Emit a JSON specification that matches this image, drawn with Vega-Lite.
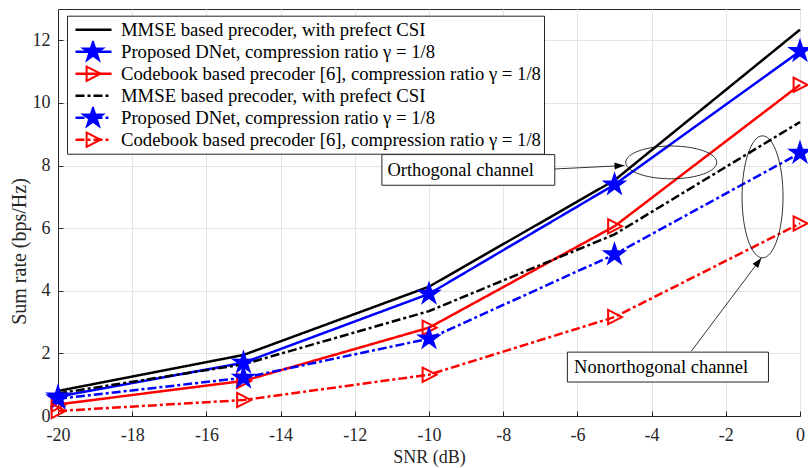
{
  "$schema": "https://vega.github.io/schema/vega-lite/v6.json",
  "width": 742,
  "height": 407,
  "autosize": {"type": "none"},
  "padding": {"left": 58, "top": 9, "right": 8, "bottom": 52},
  "background": "white",
  "config": {
    "font": "Liberation Serif",
    "view": {"stroke": "#262626", "strokeWidth": 1},
    "axis": {
      "labelFont": "Liberation Serif",
      "labelFontSize": 18,
      "labelColor": "#262626",
      "titleFont": "Liberation Serif",
      "titleFontWeight": "normal",
      "titleColor": "#262626",
      "grid": true,
      "gridColor": "#e4e4e4",
      "gridWidth": 1,
      "domainColor": "#262626",
      "tickColor": "#262626",
      "labelFlush": false,
      "labelOverlap": false
    }
  },
  "datasets": {
    "curves": [
      {"x": -20, "y": 0.80, "series": "s1", "mk": "m1"},
      {"x": -15, "y": 1.95, "series": "s1", "mk": "m1"},
      {"x": -10, "y": 4.13, "series": "s1", "mk": "m1"},
      {"x": -5, "y": 7.53, "series": "s1", "mk": "m1"},
      {"x": 0, "y": 12.34, "series": "s1", "mk": "m1"},
      {"x": -20, "y": 0.62, "series": "s2", "mk": "m2"},
      {"x": -15, "y": 1.70, "series": "s2", "mk": "m2"},
      {"x": -10, "y": 3.90, "series": "s2", "mk": "m2"},
      {"x": -5, "y": 7.39, "series": "s2", "mk": "m2"},
      {"x": 0, "y": 11.65, "series": "s2", "mk": "m2"},
      {"x": -20, "y": 0.37, "series": "s3", "mk": "m3"},
      {"x": -15, "y": 1.12, "series": "s3", "mk": "m3"},
      {"x": -10, "y": 2.82, "series": "s3", "mk": "m3"},
      {"x": -5, "y": 6.06, "series": "s3", "mk": "m3"},
      {"x": 0, "y": 10.58, "series": "s3", "mk": "m3"},
      {"x": -20, "y": 0.72, "series": "s4", "mk": "m4"},
      {"x": -15, "y": 1.65, "series": "s4", "mk": "m4"},
      {"x": -10, "y": 3.35, "series": "s4", "mk": "m4"},
      {"x": -5, "y": 5.80, "series": "s4", "mk": "m4"},
      {"x": 0, "y": 9.39, "series": "s4", "mk": "m4"},
      {"x": -20, "y": 0.55, "series": "s5", "mk": "m5"},
      {"x": -15, "y": 1.22, "series": "s5", "mk": "m5"},
      {"x": -10, "y": 2.47, "series": "s5", "mk": "m5"},
      {"x": -5, "y": 5.16, "series": "s5", "mk": "m5"},
      {"x": 0, "y": 8.40, "series": "s5", "mk": "m5"},
      {"x": -20, "y": 0.16, "series": "s6", "mk": "m6"},
      {"x": -15, "y": 0.51, "series": "s6", "mk": "m6"},
      {"x": -10, "y": 1.32, "series": "s6", "mk": "m6"},
      {"x": -5, "y": 3.16, "series": "s6", "mk": "m6"},
      {"x": 0, "y": 6.15, "series": "s6", "mk": "m6"}
    ],
    "boxes": [
      {"x": -11.27, "x2": -6.61, "y": 8.35, "y2": 7.37},
      {"x": -6.27, "x2": -0.85, "y": 2.04, "y2": 1.085}
    ],
    "notes": [
      {"x": -11.12, "y": 7.86, "text": "Orthogonal channel"},
      {"x": -6.09, "y": 1.56, "text": "Nonorthogonal channel"}
    ],
    "arrows": [
      {"x": -6.61, "y": 7.89, "x2": -4.73, "y2": 8.0},
      {"x": -2.93, "y": 2.07, "x2": -1.04, "y2": 5.05}
    ],
    "orthTip": [{"x": -4.73, "y": 8.0}],
    "nonTip": [{"x": -1.04, "y": 5.05}],
    "orthEll": [{"x": -3.47, "y": 8.10}],
    "nonEll": [{"x": -1.01, "y": 7.0}]
  },
  "encoding": {
    "x": {
      "field": "x",
      "type": "quantitative",
      "scale": {"domain": [-20, 0], "nice": false},
      "axis": {
        "title": "SNR (dB)",
        "titleFontSize": 18,
        "titleBaseline": "alphabetic",
        "titleY": 46.8,
        "values": [-20, -18, -16, -14, -12, -10, -8, -6, -4, -2, 0],
        "labelExpr": "'' + datum.value",
        "tickSize": -5,
        "labelBaseline": "middle",
        "labelPadding": 24
      }
    },
    "y": {
      "field": "y",
      "type": "quantitative",
      "scale": {"domain": [0, 13], "nice": false},
      "axis": {
        "title": "Sum rate (bps/Hz)",
        "titleFontSize": 20,
        "titleBaseline": "middle",
        "titleX": -39,
        "titleY": 242,
        "values": [0, 2, 4, 6, 8, 10, 12],
        "labelExpr": "'' + datum.value",
        "tickSize": -5,
        "labelPadding": 13
      }
    }
  },
  "layer": [
    {
      "data": {"name": "curves"},
      "mark": {"type": "line", "strokeWidth": 2.5},
      "encoding": {
        "color": {
          "field": "series",
          "type": "nominal",
          "scale": {
            "domain": ["s1", "s2", "s3", "s4", "s5", "s6"],
            "range": ["#000000", "#0000ff", "#ff0000", "#000000", "#0000ff", "#ff0000"]
          },
          "legend": {
            "orient": "none",
            "legendX": 9,
            "legendY": 6.7,
            "title": null,
            "padding": 3,
            "symbolOffset": 4,
            "fillColor": "white",
            "strokeColor": "#262626",
            "symbolType": "stroke",
            "symbolSize": 1296,
            "symbolStrokeWidth": 2.5,
            "labelFont": "Liberation Serif",
            "labelFontSize": 18.7,
            "labelColor": "black",
            "labelLimit": 600,
            "labelOffset": 8,
            "clipHeight": 22,
            "rowPadding": 0,
            "labelExpr": "{'s1':'MMSE based precoder, with prefect CSI','s2':'Proposed DNet, compression ratio γ = 1/8','s3':'Codebook based precoder [6], compression ratio γ = 1/8','s4':'MMSE based precoder, with prefect CSI','s5':'Proposed DNet, compression ratio γ = 1/8','s6':'Codebook based precoder [6], compression ratio γ = 1/8'}[datum.value]"
          }
        },
        "strokeDash": {
          "field": "series",
          "type": "nominal",
          "scale": {
            "domain": ["s1", "s2", "s3", "s4", "s5", "s6"],
            "range": [[1, 0], [1, 0], [1, 0], [9, 3, 3, 3], [9, 3, 3, 3], [9, 3, 3, 3]]
          }
        }
      }
    },
    {
      "data": {"name": "curves"},
      "transform": [{"filter": "datum.mk != 'm1' && datum.mk != 'm4'"}],
      "mark": {"type": "point", "filled": false, "strokeWidth": 2, "opacity": 1},
      "encoding": {
        "shape": {
          "field": "mk",
          "type": "nominal",
          "scale": {
            "domain": ["m1", "m2", "m3", "m4", "m5", "m6"],
            "range": [
              "M0,-1L0.2234,-0.3074L0.9511,-0.309L0.3614,0.1174L0.5878,0.809L0,0.38L-0.5878,0.809L-0.3614,0.1174L-0.9511,-0.309L-0.2234,-0.3074Z",
              "M0,-1L0.2234,-0.3074L0.9511,-0.309L0.3614,0.1174L0.5878,0.809L0,0.38L-0.5878,0.809L-0.3614,0.1174L-0.9511,-0.309L-0.2234,-0.3074Z",
              "M1,0L-0.85,-0.95L-0.85,0.95Z",
              "M0,-1L0.2234,-0.3074L0.9511,-0.309L0.3614,0.1174L0.5878,0.809L0,0.38L-0.5878,0.809L-0.3614,0.1174L-0.9511,-0.309L-0.2234,-0.3074Z",
              "M0,-1L0.2234,-0.3074L0.9511,-0.309L0.3614,0.1174L0.5878,0.809L0,0.38L-0.5878,0.809L-0.3614,0.1174L-0.9511,-0.309L-0.2234,-0.3074Z",
              "M1,0L-0.85,-0.95L-0.85,0.95Z"
            ]
          },
          "legend": {
            "orient": "none",
            "legendX": 16.5,
            "legendY": 6.7,
            "title": null,
            "padding": 3,
            "symbolOffset": 4,
            "symbolStrokeWidth": 2,
            "labelFont": "Liberation Serif",
            "labelFontSize": 18.7,
            "labelExpr": "''",
            "labelLimit": 600,
            "clipHeight": 22,
            "rowPadding": 0
          }
        },
        "stroke": {
          "field": "mk",
          "type": "nominal",
          "scale": {
            "domain": ["m1", "m2", "m3", "m4", "m5", "m6"],
            "range": ["transparent", "#0000ff", "#ff0000", "transparent", "#0000ff", "#ff0000"]
          }
        },
        "fill": {
          "field": "mk",
          "type": "nominal",
          "scale": {
            "domain": ["m1", "m2", "m3", "m4", "m5", "m6"],
            "range": ["transparent", "#0000ff", "transparent", "transparent", "#0000ff", "transparent"]
          }
        },
        "size": {
          "field": "mk",
          "type": "nominal",
          "scale": {
            "type": "ordinal",
            "domain": ["m1", "m2", "m3", "m4", "m5", "m6"],
            "range": [420, 420, 225, 420, 420, 225]
          }
        }
      }
    },
    {
      "data": {"name": "boxes"},
      "mark": {"type": "rect", "fill": "white", "stroke": "#262626", "strokeWidth": 1},
      "encoding": {"x2": {"field": "x2"}, "y2": {"field": "y2"}}
    },
    {
      "data": {"name": "notes"},
      "mark": {"type": "text", "align": "left", "baseline": "middle", "font": "Liberation Serif", "fontSize": 18.5, "color": "black"},
      "encoding": {"text": {"field": "text", "type": "nominal"}}
    },
    {
      "data": {"name": "arrows"},
      "mark": {"type": "rule", "color": "black", "strokeWidth": 0.8},
      "encoding": {"x2": {"field": "x2"}, "y2": {"field": "y2"}}
    },
    {
      "data": {"name": "orthTip"},
      "mark": {"type": "point", "shape": "M0,0L-1,-0.35L-1,0.35Z", "size": 400, "angle": -2, "filled": true, "color": "black", "opacity": 1},
      "encoding": {}
    },
    {
      "data": {"name": "nonTip"},
      "mark": {"type": "point", "shape": "M0,0L-1,-0.35L-1,0.35Z", "size": 400, "angle": -53, "filled": true, "color": "black", "opacity": 1},
      "encoding": {}
    },
    {
      "data": {"name": "orthEll"},
      "mark": {"type": "point", "shape": "M-1,0A1,0.36,0,1,1,1,0A1,0.36,0,1,1,-1,0Z", "size": 8281, "filled": false, "stroke": "black", "strokeWidth": 0.8, "opacity": 1},
      "encoding": {}
    },
    {
      "data": {"name": "nonEll"},
      "mark": {"type": "point", "shape": "M0,-1A0.336,1,0,1,1,0,1A0.336,1,0,1,1,0,-1Z", "size": 14884, "filled": false, "stroke": "black", "strokeWidth": 0.8, "opacity": 1},
      "encoding": {}
    }
  ]
}
